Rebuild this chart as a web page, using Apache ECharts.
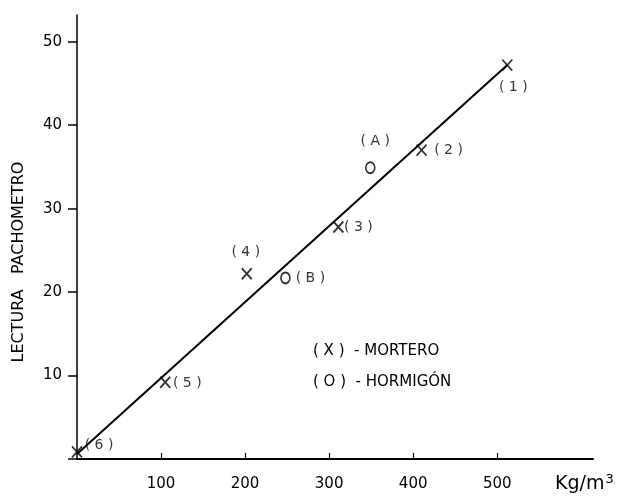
<!DOCTYPE html>
<html>
<head>
<meta charset="utf-8">
<script src="https://cdn.jsdelivr.net/npm/echarts@6/dist/echarts.min.js"></script>
<style>
html,body{margin:0;padding:0;background:#fff;}
#chart{width:619px;height:498px;}
</style>
</head>
<body>
<div id="chart"></div>
<script>
// ---- data ----
var morteroX = [512, 410, 311, 202, 105, 0];
var morteroY = [47.2, 37.0, 27.8, 22.2, 9.2, 0.85];
var morteroLabels = ['( 1 )', '( 2 )', '( 3 )', '( 4 )', '( 5 )', '( 6 )'];
var hormigonX = [349, 248];
var hormigonY = [34.9, 21.7];
var hormigonLabels = ['( A )', '( B )'];
var fitX = [0, 512];
var fitY = [0.6, 47.2];
var xTicks = [100, 200, 300, 400, 500];
var yTicks = [10, 20, 30, 40, 50];
var yTickMarks = [0, 10, 20, 30, 40, 50];

// label offsets (presentation only)
var morteroOffsets = [[6, 22], [27, 0], [20, 0], [-1, -21], [22, 1], [22, -7]];
var hormigonOffsets = [[5, -26], [25, 0]];

var FONT = 'DejaVu Sans';

function pts(xs, ys, labels, offs) {
  return xs.map(function (x, i) {
    return {
      value: [x, ys[i]],
      label: { show: true, formatter: labels[i], position: 'inside', offset: offs[i] }
    };
  });
}

var chart = echarts.init(document.getElementById('chart'), null, { renderer: 'canvas' });
chart.setOption({
  animation: false,
  backgroundColor: '#fff',
  grid: { left: 77, right: 26, top: 15, bottom: 39, containLabel: false },
  xAxis: {
    type: 'value', min: 0, max: 614,
    axisLine: { show: true, lineStyle: { color: '#000', width: 2 } },
    axisTick: { show: true, inside: true, length: 6, customValues: xTicks, lineStyle: { color: '#000', width: 1.2 } },
    axisLabel: { customValues: xTicks, color: '#000', fontFamily: FONT, fontSize: 15, margin: 18 },
    splitLine: { show: false }
  },
  yAxis: {
    type: 'value', min: 0, max: 53.2,
    axisLine: { show: true, lineStyle: { color: '#000', width: 1.5 } },
    axisTick: { show: true, inside: false, length: 9, customValues: yTickMarks, lineStyle: { color: '#000', width: 1.5 } },
    axisLabel: { customValues: yTicks, color: '#000', fontFamily: FONT, fontSize: 15, margin: 15 },
    splitLine: { show: false }
  },
  series: [
    {
      type: 'line',
      data: fitX.map(function (x, i) { return [x, fitY[i]]; }),
      symbol: 'none',
      lineStyle: { color: '#000', width: 2 },
      z: 1
    },
    {
      type: 'scatter',
      data: pts(morteroX, morteroY, morteroLabels, morteroOffsets),
      symbol: 'path://M0,0L9,11M9,0L0,11',
      symbolSize: [10, 11],
      itemStyle: { color: 'rgba(0,0,0,0)', borderColor: '#000', borderWidth: 1.8 },
      label: { color: '#000', fontFamily: FONT, fontSize: 14 },
      z: 3
    },
    {
      type: 'scatter',
      data: pts(hormigonX, hormigonY, hormigonLabels, hormigonOffsets),
      symbol: 'path://M5,0A5,5.5 0 1,1 5,11A5,5.5 0 1,1 5,0Z',
      symbolSize: [9, 11],
      itemStyle: { color: 'rgba(0,0,0,0)', borderColor: '#000', borderWidth: 1.8 },
      label: { color: '#000', fontFamily: FONT, fontSize: 14 },
      z: 3
    }
  ],
  graphic: [
    {
      type: 'text', x: 19, y: 262, rotation: Math.PI / 2,
      style: { text: 'LECTURA   PACHOMETRO', fill: '#000', font: '16px "DejaVu Sans"', align: 'center', verticalAlign: 'middle' }
    },
    {
      type: 'text', x: 313, y: 351,
      style: { text: '( X )  - MORTERO', fill: '#000', font: '15px "DejaVu Sans"', align: 'left', verticalAlign: 'middle' }
    },
    {
      type: 'text', x: 313, y: 382,
      style: { text: '( O )  - HORMIGÓN', fill: '#000', font: '15px "DejaVu Sans"', align: 'left', verticalAlign: 'middle' }
    },
    {
      type: 'text', x: 555, y: 484,
      style: {
        text: '{a|Kg/m}{b|3}', verticalAlign: 'middle', align: 'left',
        rich: {
          a: { fontFamily: FONT, fontSize: 19, fill: '#000', color: '#000' },
          b: { fontFamily: FONT, fontSize: 13, fill: '#000', color: '#000', verticalAlign: 'top', padding: [0, 0, 9, 1] }
        }
      }
    }
  ]
});
</script>
</body>
</html>
